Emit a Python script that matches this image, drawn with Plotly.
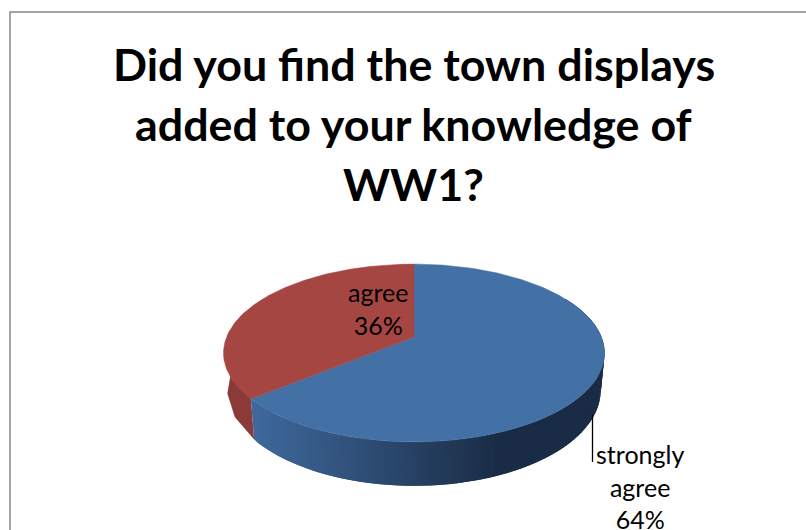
import numpy as np
import plotly.graph_objects as go

categories = ["strongly agree", "agree"]
values = [64, 36]
title_lines = ["Did you find the town displays", "added to your knowledge of", "WW1?"]

W, H = 806, 530
CX, APEX_Y = 414.0, 337.0
R, A, K, DEPTH, BASE_SCALE = 187.4, 86.0, 0.18, 36.0, 0.98
TOP_COLORS = ["#4371a6", "#a64643"]
SIDE_RED = "#8c3a38"
BLUE_L, BLUE_D = np.array([62, 104, 155]), np.array([26, 44, 69])


def proj(theta, drop=0.0, scale=1.0):
    """theta in radians clockwise from 12 o'clock on a tilted disc, with perspective."""
    X, Y = np.sin(theta), -np.cos(theta)
    w = 1 - K * Y
    return CX + scale * R * X / w, APEX_Y + (A * Y + drop) / w


fig = go.Figure()
frac = np.cumsum([0] + values) / sum(values) * 2 * np.pi
spans = [(frac[0], frac[1]), (frac[1], frac[2])]


def wall(t0, t1, col):
    ts = np.linspace(t0, t1, 6)
    xt, yt = proj(ts)
    xb, yb = proj(ts, DEPTH, BASE_SCALE)
    fig.add_trace(go.Scatter(x=list(xt) + list(xb[::-1]), y=list(yt) + list(yb[::-1]),
                             mode="lines", fill="toself", fillcolor=col,
                             line=dict(color=col, width=0), hoverinfo="skip", showlegend=False))


# red wall, flat colour
wall(frac[1], 3 * np.pi / 2 + 0.5, SIDE_RED)

# blue wall, painted from the dark right end to the light left end; each strip reaches back
# under the one painted before it so that no seams show
edges = np.linspace(np.pi / 2 - 0.5, frac[1], 131)
step = edges[1] - edges[0]
for t0, t1 in zip(edges[:-1], edges[1:]):
    f = np.clip((float(proj((t0 + t1) / 2)[0]) - 255) / (495 - 255), 0, 1)
    c = BLUE_L + (BLUE_D - BLUE_L) * f
    wall(t1, max(edges[0], t0 - step), "rgb(%d,%d,%d)" % tuple(c))

# top slices
for (a, b), col, name in zip(spans, TOP_COLORS, categories):
    ts = np.linspace(a, b, 160)
    x, y = proj(ts)
    fig.add_trace(go.Scatter(x=[CX] + list(x) + [CX], y=[APEX_Y] + list(y) + [APEX_Y],
                             mode="lines", fill="toself", fillcolor=col,
                             line=dict(color=col, width=0.5), name=name, showlegend=False))

# leader line
fig.add_trace(go.Scatter(x=[592.5, 592.5], y=[415, 462], mode="lines",
                         line=dict(color="#000000", width=1.3), hoverinfo="skip", showlegend=False))

FONT = "Lato, Carlito, Calibri, sans-serif"
ann = []
for line, y in zip(title_lines, [64, 124, 184]):
    ann.append(dict(x=413.5, y=y, text=f"<b>{line}</b>", font=dict(size=44.8, family=FONT, color="#000")))
ann.append(dict(x=378, y=308, text="agree<br>36%", font=dict(size=25, family=FONT, color="#000")))
ann.append(dict(x=640, y=486, text="strongly<br>agree<br>64%", font=dict(size=25, family=FONT, color="#000")))
for a in ann:
    a.update(xref="x", yref="y", showarrow=False, xanchor="center", yanchor="middle")

fig.update_layout(
    width=W, height=H, margin=dict(l=0, r=0, t=0, b=0), autosize=False,
    paper_bgcolor="#ffffff", plot_bgcolor="#ffffff", annotations=ann,
    xaxis=dict(range=[0, W], visible=False, fixedrange=True),
    yaxis=dict(range=[H, 0], visible=False, fixedrange=True),
    shapes=[dict(type="rect", xref="x", yref="y", x0=10, y0=12, x1=W + 5, y1=H + 5,
                 line=dict(color="#868686", width=1.5), layer="below")],
)
fig.write_html("out.html", config={"displayModeBar": False},
               post_script="document.body.style.margin='0';document.documentElement.style.overflow='hidden';")
